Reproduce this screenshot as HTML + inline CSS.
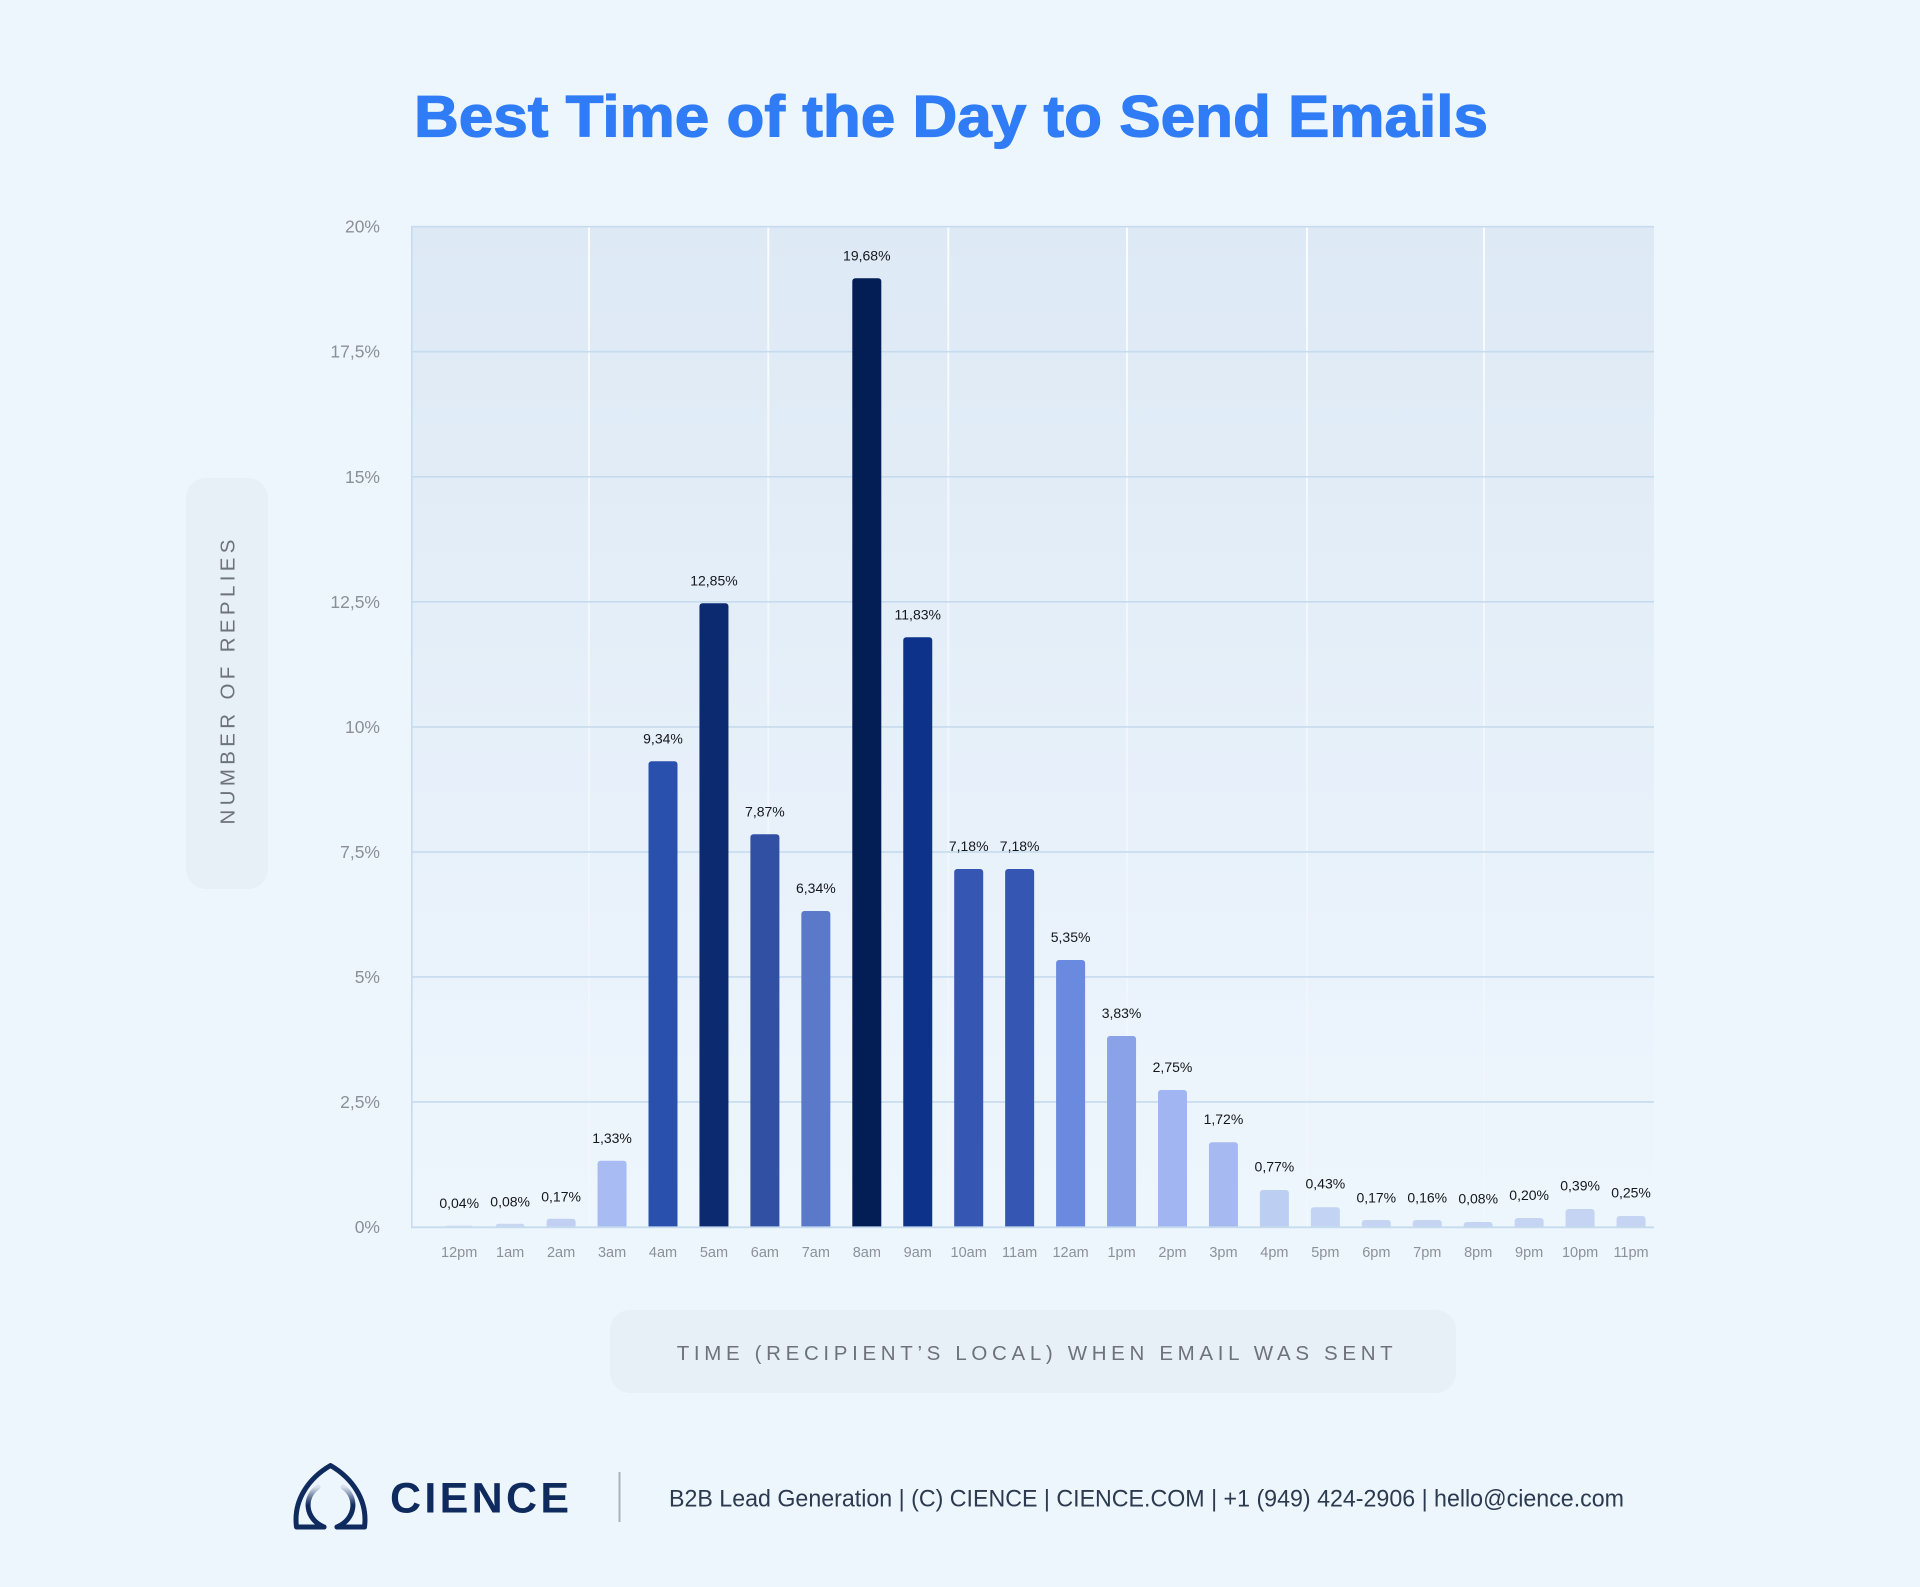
<!DOCTYPE html>
<html>
<head>
<meta charset="utf-8">
<style>
  html,body{margin:0;padding:0;background:#eef6fd;}
  svg{display:block;}
  text{font-family:"Liberation Sans",Arial,sans-serif;}
</style>
</head>
<body>
<svg width="1920" height="1587" viewBox="0 0 1920 1587" xmlns="http://www.w3.org/2000/svg">
  <defs>
    <linearGradient id="plotbg" x1="0" y1="0" x2="0" y2="1">
      <stop offset="0" stop-color="#dde9f5"/>
      <stop offset="0.6" stop-color="#e8f1fa"/>
      <stop offset="1" stop-color="#eef6fd"/>
    </linearGradient>
    <linearGradient id="vline" x1="0" y1="0" x2="0" y2="1">
      <stop offset="0" stop-color="#ffffff" stop-opacity="0.85"/>
      <stop offset="0.6" stop-color="#ffffff" stop-opacity="0.35"/>
      <stop offset="1" stop-color="#ffffff" stop-opacity="0.1"/>
    </linearGradient>
    <linearGradient id="logoL" x1="0" y1="1" x2="0" y2="0">
      <stop offset="0" stop-color="#0f2b5e"/>
      <stop offset="0.55" stop-color="#0f2b5e"/>
      <stop offset="1" stop-color="#0f2b5e" stop-opacity="0.1"/>
    </linearGradient>
    <clipPath id="plotclip">
      <rect x="400" y="200" width="1260" height="1027"/>
    </clipPath>
  </defs>

  <rect x="0" y="0" width="1920" height="1587" fill="#eef6fd"/>

  <!-- Title -->
  <text x="414" y="136.7" font-size="58.5" font-weight="bold" fill="#2f7cf6" stroke="#2f7cf6" stroke-width="1.2" textLength="1074" lengthAdjust="spacingAndGlyphs">Best Time of the Day to Send Emails</text>

  <!-- Plot background -->
  <rect x="411" y="226.7" width="1243" height="1000.3" fill="url(#plotbg)"/>
  <!-- vertical white lines -->
  <g fill="url(#vline)">
    <rect x="588" y="227" width="2" height="1000"/>
    <rect x="767.3" y="227" width="2" height="1000"/>
    <rect x="947.3" y="227" width="2" height="1000"/>
    <rect x="1126" y="227" width="2" height="1000"/>
    <rect x="1306" y="227" width="2" height="1000"/>
    <rect x="1483" y="227" width="2" height="1000"/>
  </g>

  <!-- gridlines -->
  <g stroke="#c6dbee" stroke-width="1.6">
    <line x1="411" y1="226.7" x2="1654" y2="226.7"/>
    <line x1="411" y1="351.7" x2="1654" y2="351.7"/>
    <line x1="411" y1="476.8" x2="1654" y2="476.8"/>
    <line x1="411" y1="601.8" x2="1654" y2="601.8"/>
    <line x1="411" y1="726.9" x2="1654" y2="726.9"/>
    <line x1="411" y1="851.9" x2="1654" y2="851.9"/>
    <line x1="411" y1="976.9" x2="1654" y2="976.9"/>
    <line x1="411" y1="1101.9" x2="1654" y2="1101.9"/>
    <line x1="411.8" y1="226" x2="411.8" y2="1227"/>
  </g>

  <!-- y tick labels -->
  <g font-size="17.5" fill="#8b9097" text-anchor="end">
    <text x="380" y="232.7">20%</text>
    <text x="380" y="357.7">17,5%</text>
    <text x="380" y="482.8">15%</text>
    <text x="380" y="607.8">12,5%</text>
    <text x="380" y="732.9">10%</text>
    <text x="380" y="857.9">7,5%</text>
    <text x="380" y="982.9">5%</text>
    <text x="380" y="1107.9">2,5%</text>
    <text x="380" y="1233">0%</text>
  </g>

  <!-- bars -->
  <g clip-path="url(#plotclip)">
    <rect x="444.7" y="1225.5" width="29" height="10" rx="3" fill="#d3def3"/>
    <rect x="495.65" y="1223.7" width="29" height="10" rx="3" fill="#c9d6f1"/>
    <rect x="546.6" y="1218.7" width="29" height="20" rx="3" fill="#c0cff2"/>
    <rect x="597.55" y="1160.8" width="29" height="80" rx="3" fill="#a8bcf3"/>
    <rect x="648.5" y="761.3" width="29" height="480" rx="3" fill="#2a50ad"/>
    <rect x="699.45" y="603.3" width="29" height="640" rx="3" fill="#0c2a70"/>
    <rect x="750.4" y="834.3" width="29" height="400" rx="3" fill="#3150a3"/>
    <rect x="801.35" y="911" width="29" height="330" rx="3" fill="#5a79c8"/>
    <rect x="852.3" y="278.3" width="29" height="960" rx="3" fill="#031d55"/>
    <rect x="903.25" y="637.3" width="29" height="600" rx="3" fill="#0d3289"/>
    <rect x="954.2" y="869" width="29" height="370" rx="3" fill="#3557b3"/>
    <rect x="1005.15" y="869" width="29" height="370" rx="3" fill="#3557b3"/>
    <rect x="1056.1" y="960" width="29" height="280" rx="3" fill="#6a8ae0"/>
    <rect x="1107.05" y="1036" width="29" height="200" rx="3" fill="#89a2e8"/>
    <rect x="1158" y="1090" width="29" height="150" rx="3" fill="#a0b5f1"/>
    <rect x="1208.95" y="1142.3" width="29" height="100" rx="3" fill="#a6b9f1"/>
    <rect x="1259.9" y="1190" width="29" height="50" rx="3" fill="#bccff3"/>
    <rect x="1310.85" y="1207.3" width="29" height="30" rx="3" fill="#c2d3f3"/>
    <rect x="1361.8" y="1220" width="29" height="20" rx="3" fill="#c5d4f2"/>
    <rect x="1412.75" y="1220" width="29" height="20" rx="3" fill="#c5d4f2"/>
    <rect x="1463.7" y="1222" width="29" height="20" rx="3" fill="#c5d4f2"/>
    <rect x="1514.65" y="1218" width="29" height="20" rx="3" fill="#c5d4f2"/>
    <rect x="1565.6" y="1209" width="29" height="30" rx="3" fill="#c5d4f2"/>
    <rect x="1616.55" y="1216" width="29" height="20" rx="3" fill="#c5d4f2"/>
  </g>

  <!-- x axis line -->
  <line x1="411" y1="1227.3" x2="1654" y2="1227.3" stroke="#c6dbee" stroke-width="1.8"/>

  <!-- value labels -->
  <g font-size="14" fill="#15171c" text-anchor="middle">
    <text x="459.2" y="1208">0,04%</text>
    <text x="510.15" y="1206.3">0,08%</text>
    <text x="561.1" y="1201.3">0,17%</text>
    <text x="612.05" y="1142.8">1,33%</text>
    <text x="663" y="743.3">9,34%</text>
    <text x="713.95" y="585.3">12,85%</text>
    <text x="764.9" y="816.3">7,87%</text>
    <text x="815.85" y="893">6,34%</text>
    <text x="866.8" y="260.5">19,68%</text>
    <text x="917.75" y="619.3">11,83%</text>
    <text x="968.7" y="851">7,18%</text>
    <text x="1019.65" y="851">7,18%</text>
    <text x="1070.6" y="942">5,35%</text>
    <text x="1121.55" y="1018">3,83%</text>
    <text x="1172.5" y="1072">2,75%</text>
    <text x="1223.45" y="1124">1,72%</text>
    <text x="1274.4" y="1171.7">0,77%</text>
    <text x="1325.35" y="1188.7">0,43%</text>
    <text x="1376.3" y="1202.3">0,17%</text>
    <text x="1427.25" y="1202.3">0,16%</text>
    <text x="1478.2" y="1203.3">0,08%</text>
    <text x="1529.15" y="1200">0,20%</text>
    <text x="1580.1" y="1190.7">0,39%</text>
    <text x="1631.05" y="1197.7">0,25%</text>
  </g>

  <!-- x tick labels -->
  <g font-size="14.5" fill="#8a9199" text-anchor="middle">
    <text x="459.2" y="1257">12pm</text>
    <text x="510.15" y="1257">1am</text>
    <text x="561.1" y="1257">2am</text>
    <text x="612.05" y="1257">3am</text>
    <text x="663" y="1257">4am</text>
    <text x="713.95" y="1257">5am</text>
    <text x="764.9" y="1257">6am</text>
    <text x="815.85" y="1257">7am</text>
    <text x="866.8" y="1257">8am</text>
    <text x="917.75" y="1257">9am</text>
    <text x="968.7" y="1257">10am</text>
    <text x="1019.65" y="1257">11am</text>
    <text x="1070.6" y="1257">12am</text>
    <text x="1121.55" y="1257">1pm</text>
    <text x="1172.5" y="1257">2pm</text>
    <text x="1223.45" y="1257">3pm</text>
    <text x="1274.4" y="1257">4pm</text>
    <text x="1325.35" y="1257">5pm</text>
    <text x="1376.3" y="1257">6pm</text>
    <text x="1427.25" y="1257">7pm</text>
    <text x="1478.2" y="1257">8pm</text>
    <text x="1529.15" y="1257">9pm</text>
    <text x="1580.1" y="1257">10pm</text>
    <text x="1631.05" y="1257">11pm</text>
  </g>

  <!-- Y axis title box -->
  <rect x="186" y="478" width="82" height="411" rx="20" fill="#e7eff7"/>
  <g transform="translate(234.5,682) rotate(-90)">
    <text x="-142.5" y="0" font-size="20.5" fill="#6d737a" textLength="285" lengthAdjust="spacing">NUMBER OF REPLIES</text>
  </g>

  <!-- X axis title box -->
  <rect x="610" y="1310" width="846" height="83" rx="20" fill="#e7eff7"/>
  <text x="676.7" y="1360" font-size="20.5" fill="#6d737a" textLength="716" lengthAdjust="spacing">TIME (RECIPIENT’S LOCAL) WHEN EMAIL WAS SENT</text>

  <!-- Footer logo -->
  <g fill="none" stroke-linecap="round" stroke-linejoin="round">
    <path d="M296.5,1527 C293,1500 309,1478 330.5,1465.5 C352,1478 368,1500 364.5,1527 L337,1527 M296.5,1527 L324,1527" stroke="#0f2b5e" stroke-width="5"/>
    <path d="M324,1527 C305,1519 303,1497 318,1487" stroke="url(#logoL)" stroke-width="5"/>
    <path d="M337,1527 C356,1519 358,1497 343,1487" stroke="url(#logoL)" stroke-width="5"/>
  </g>
  <text x="390" y="1512.7" font-size="43" font-weight="bold" fill="#0f2b5e" textLength="179" lengthAdjust="spacing">CIENCE</text>
  <line x1="619.5" y1="1472" x2="619.5" y2="1522" stroke="#a8b3c0" stroke-width="2"/>
  <text x="669" y="1506.7" font-size="24" fill="#2c3a50" textLength="955" lengthAdjust="spacingAndGlyphs">B2B Lead Generation | (C) CIENCE | CIENCE.COM | +1 (949) 424-2906 | hello@cience.com</text>
</svg>
</body>
</html>
